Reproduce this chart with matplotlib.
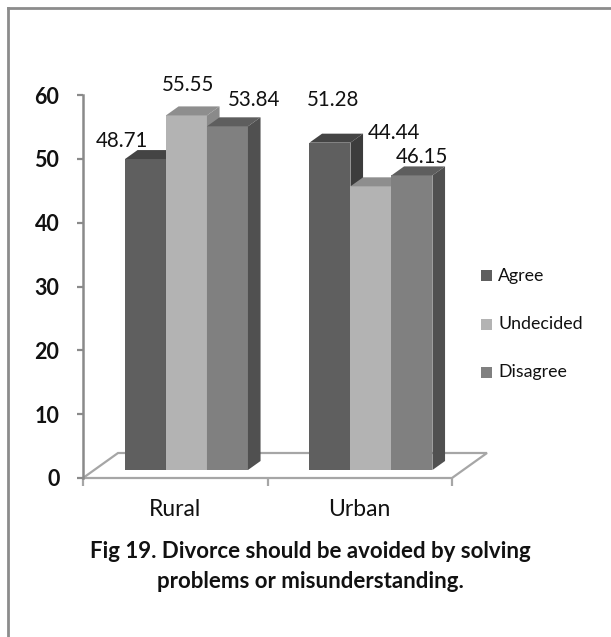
import matplotlib
matplotlib.use("Agg")
import matplotlib.pyplot as plt
from matplotlib.patches import Polygon, Rectangle
from matplotlib.lines import Line2D

# ---- data -------------------------------------------------------------
categories = ["Rural", "Urban"]
series_names = ["Agree", "Undecided", "Disagree"]
agree = [48.71, 51.28]
undecided = [55.55, 44.44]
disagree = [53.84, 46.15]
y_ticks = [0, 10, 20, 30, 40, 50, 60]
caption_lines = ["Fig 19. Divorce should be avoided by solving",
                 "problems or misunderstanding."]

series_values = [agree, undecided, disagree]

# ---- style ------------------------------------------------------------
FONT = "Lato"
# (front, top, side) shades for each series
shades = [("#5f5f5f", "#444444", "#3c3c3c"),
          ("#b3b3b3", "#8e8e8e", "#8a8a8a"),
          ("#808080", "#5e5e5e", "#505050")]
# label offsets (pixels) from the top-centre of each bar's front face
label_offsets = [[(-23, 18), (2, 30), (27, 26)],
                 [(3, 43), (23, 53), (10, 18)]]

W, H = 611, 637
fig = plt.figure(figsize=(W / 100, H / 100), dpi=100)
fig.patch.set_facecolor("white")

ax_left, ax_bottom, ax_w, ax_h = 83, 478, 369, 383  # in pixels
ax = fig.add_axes([ax_left / W, 1 - ax_bottom / H, ax_w / W, ax_h / H])
ax.set_xlim(-0.5, len(categories) - 0.5)
ax.set_ylim(y_ticks[0], y_ticks[-1])
ax.set_facecolor("none")

px_x = ax_w / len(categories)             # pixels per category unit
px_y = ax_h / (y_ticks[-1] - y_ticks[0])  # pixels per value unit

# 3-D projection offsets
floor_dx, floor_dy = 35 / px_x, 25 / px_y
front_dx, front_dy = 0.32 * floor_dx, 0.32 * floor_dy
depth_dx, depth_dy = 0.36 * floor_dx, 0.36 * floor_dy
bar_w = 2 / 9

# floor
n = len(categories)
floor = Polygon([(-0.5, 0), (n - 0.5, 0), (n - 0.5 + floor_dx, floor_dy),
                 (-0.5 + floor_dx, floor_dy)], closed=True,
                facecolor="white", edgecolor="#a6a6a6", lw=1.6,
                clip_on=False, zorder=1)
ax.add_patch(floor)

# bars
for i in range(n):
    for j, vals in enumerate(series_values):
        v = vals[i]
        front_c, top_c, side_c = shades[j]
        x0 = i - 1.5 * bar_w + front_dx + j * bar_w
        x1 = x0 + bar_w
        y0 = front_dy
        y1 = y0 + v
        ax.add_patch(Polygon([(x0, y0), (x1, y0), (x1, y1), (x0, y1)],
                             closed=True, facecolor=front_c, edgecolor="none",
                             clip_on=False, zorder=3))
        ax.add_patch(Polygon([(x0, y1), (x1, y1), (x1 + depth_dx, y1 + depth_dy),
                              (x0 + depth_dx, y1 + depth_dy)], closed=True,
                             facecolor=top_c, edgecolor="none", clip_on=False,
                             zorder=3))
        ax.add_patch(Polygon([(x1, y0), (x1 + depth_dx, y0 + depth_dy),
                              (x1 + depth_dx, y1 + depth_dy), (x1, y1)],
                             closed=True, facecolor=side_c, edgecolor="none",
                             clip_on=False, zorder=3))
        ox, oy = label_offsets[i][j]
        ax.annotate(f"{v:.2f}", xy=(x0 + bar_w / 2, y1), xytext=(ox, oy),
                    textcoords="offset pixels", ha="center", va="center",
                    fontsize=14.8, family=FONT, color="#111111",
                    annotation_clip=False, zorder=5)

# axes styling
for s in ("top", "right", "bottom"):
    ax.spines[s].set_visible(False)
ax.spines["left"].set_color("#8a8a8a")
ax.spines["left"].set_linewidth(1.8)
ax.set_yticks(y_ticks)
ax.set_yticklabels([str(t) for t in y_ticks], fontsize=15.5,
                   fontweight="bold", family=FONT, color="#111111")
ax.tick_params(axis="y", length=4.5, width=1.6, color="#8a8a8a", pad=12.5)

ax.set_xticks([k - 0.5 for k in range(n + 1)])
ax.set_xticklabels([])
ax.set_xticks(range(n), minor=True)
ax.set_xticklabels(categories, minor=True, fontsize=16.5, family=FONT,
                   color="#111111")
ax.tick_params(axis="x", which="major", length=6, width=1.6,
               color="#a6a6a6", direction="out")
ax.tick_params(axis="x", which="minor", length=0, pad=15)

# legend
legend_y = [276, 324, 372]
for name, (fc, _, _), ly in zip(series_names, shades, legend_y):
    fig.patches.append(Rectangle((481 / W, 1 - (ly + 5.5) / H), 11 / W, 11 / H,
                                 transform=fig.transFigure, facecolor=fc,
                                 edgecolor="none"))
    fig.text(498 / W, 1 - ly / H, name, ha="left", va="center",
             fontsize=12.8, family=FONT, color="#111111")

# caption
for k, line in enumerate(caption_lines):
    fig.text(310 / W, 1 - (551 + 30 * k) / H, line, ha="center", va="center",
             fontsize=16, fontweight="bold", family=FONT, color="#111111")

# chart frame (left and top edges)
fig.lines.append(Line2D([8 / W, 8 / W], [0, 1 - 8 / H], transform=fig.transFigure,
                        color="#8c8c8c", lw=2))
fig.lines.append(Line2D([8 / W, 1], [1 - 8 / H, 1 - 8 / H],
                        transform=fig.transFigure, color="#8c8c8c", lw=2))

fig.savefig("out.png", dpi=100)
